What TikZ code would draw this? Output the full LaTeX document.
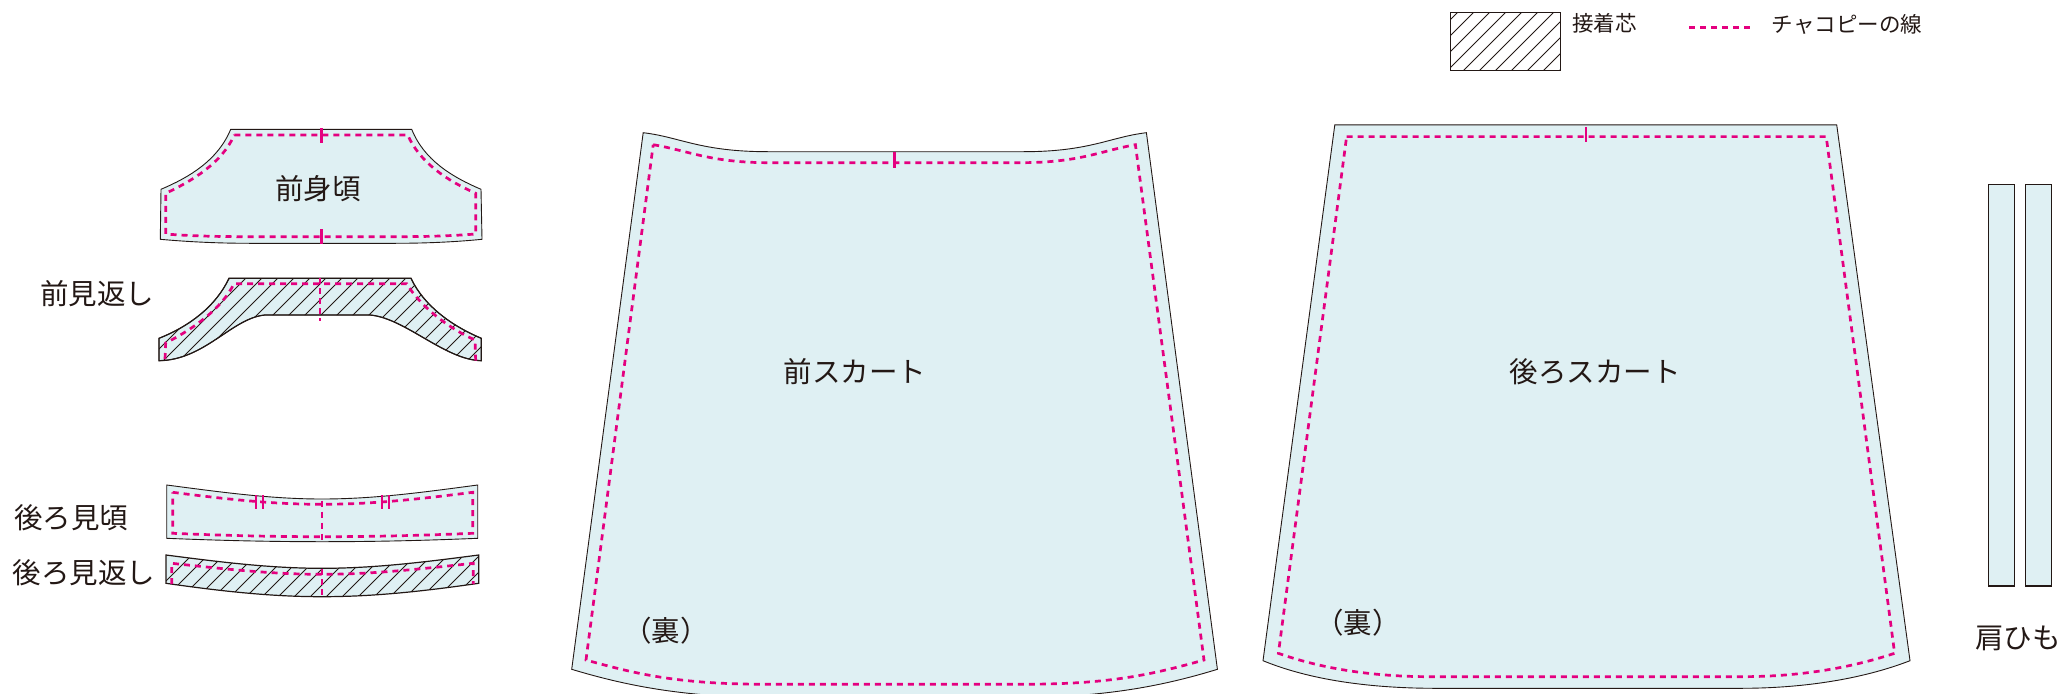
\documentclass[tikz,border=0pt]{standalone}
\usepackage{fontspec}
\setmainfont{Noto Sans CJK JP}
\definecolor{cloth}{HTML}{DFF0F3}
\definecolor{chalk}{HTML}{E4007F}
\definecolor{ink}{HTML}{231815}
\tikzset{
  piece/.style={draw=ink,line width=0.9pt,fill=cloth},
  chalkline/.style={draw=chalk,line width=2.7pt,dash pattern=on 6pt off 5pt},
  tickline/.style={draw=chalk,line width=2.6pt},
  hatchline/.style={draw=ink,line width=0.9pt},
  label/.style={text=ink,font=\fontsize{28.5}{30}\selectfont,inner sep=0pt},
  smalllabel/.style={text=ink,font=\fontsize{21.5}{24}\selectfont,inner sep=0pt}
}
\begin{document}
\begin{tikzpicture}[x=1pt,y=-1pt]
\path[use as bounding box] (0,0) rectangle (2060,693);
\clip (0,0) rectangle (2060,693);
% front bodice
\draw[piece] (230.7,129.3) -- (411.7,129.3) .. controls (424,160) and (452,177) .. (481,189.3) -- (482,239.3)
  .. controls (455,242) and (425,243.3) .. (395,243.3) -- (250,243.3) .. controls (220,243.3) and (190,242) .. (160.3,239.3) -- (161,189.3)
  .. controls (190,177) and (218,160) .. (230.7,129.3) -- cycle;
\draw[chalkline] (234.3,135) -- (407.7,135) .. controls (420,163) and (448,181) .. (475.7,193.3) -- (475.7,234)
  .. controls (450,236) and (425,236.7) .. (395,236.7) -- (250,236.7) .. controls (220,236.7) and (190,236) .. (165.7,234) -- (165.7,193.3)
  .. controls (192,181) and (222,163) .. (234.3,135);
\draw[tickline] (321.3,128) -- (321.3,142.7) (321.3,229) -- (321.3,244);
% front facing
\path[piece] (229,278.3) -- (411,278.3) .. controls (424,306) and (452,326) .. (481.3,338.3) -- (481.3,360.7)
  .. controls (445,360) and (405,318) .. (370,315) -- (265,315)
  .. controls (232,318) and (205,360) .. (159,360.7) -- (159,338.3) .. controls (190,326) and (216,306) .. (229,278.3) -- cycle;
\begin{scope}
\clip (229,278.3) -- (411,278.3) .. controls (424,306) and (452,326) .. (481.3,338.3) -- (481.3,360.7)
  .. controls (445,360) and (405,318) .. (370,315) -- (265,315)
  .. controls (232,318) and (205,360) .. (159,360.7) -- (159,338.3) .. controls (190,326) and (216,306) .. (229,278.3) -- cycle;
\foreach \s in {508,524,...,844} \draw[hatchline] ({\s-270},270) -- ({\s-370},370);
\end{scope}
\draw[draw=ink,line width=1.2pt] (229,278.3) -- (411,278.3) .. controls (424,306) and (452,326) .. (481.3,338.3) -- (481.3,360.7)
  .. controls (445,360) and (405,318) .. (370,315) -- (265,315)
  .. controls (232,318) and (205,360) .. (159,360.7) -- (159,338.3) .. controls (190,326) and (216,306) .. (229,278.3) -- cycle;
\draw[chalkline] (165,359) -- (165.7,343) .. controls (195,328) and (222,308) .. (234,283.7) -- (406.7,283.7)
  .. controls (420,306) and (448,328) .. (475,340) -- (475.7,360.7);
\draw[tickline,dash pattern=on 6pt off 4pt] (320,278.3) -- (320,320.7);
% back bodice
\draw[piece] (166.7,485) .. controls (220,492) and (270,499) .. (322,499) .. controls (375,499) and (425,492) .. (477.7,485)
  -- (477.7,538.3) .. controls (425,540.5) and (375,541.7) .. (322,541.7) .. controls (270,541.7) and (220,540.5) .. (166.7,538.3) -- cycle;
\draw[chalkline] (172.7,492.3) .. controls (225,499) and (272,504.3) .. (322,504.3) .. controls (372,504.3) and (420,499) .. (472.7,492.3)
  -- (472.7,533.3) .. controls (420,535.5) and (372,536.7) .. (322,536.7) .. controls (272,536.7) and (225,535.5) .. (172.7,533.3) -- cycle;
\draw[chalkline] (322,500.7) -- (322,541);
\draw[tickline,line width=2.2pt] (256,495) -- (256,509.3) (262.7,495) -- (262.7,509.3) (382.3,495) -- (382.3,509.3) (389,495) -- (389,509.3);
% back facing
\fill[cloth] (166,555) .. controls (220,562) and (270,568.3) .. (322,568.3) .. controls (375,568.3) and (425,562) .. (478.7,555)
  -- (478.7,583.3) .. controls (425,591) and (375,596.7) .. (322,596.7) .. controls (270,596.7) and (220,591) .. (166,583.3) -- cycle;
\begin{scope}
\clip (166,555) .. controls (220,562) and (270,568.3) .. (322,568.3) .. controls (375,568.3) and (425,562) .. (478.7,555)
  -- (478.7,583.3) .. controls (425,591) and (375,596.7) .. (322,596.7) .. controls (270,596.7) and (220,591) .. (166,583.3) -- cycle;
\foreach \s in {747,763,...,1067} \draw[hatchline] ({\s-550},550) -- ({\s-600},600);
\end{scope}
\draw[draw=ink,line width=1.2pt] (166,555) .. controls (220,562) and (270,568.3) .. (322,568.3) .. controls (375,568.3) and (425,562) .. (478.7,555)
  -- (478.7,583.3) .. controls (425,591) and (375,596.7) .. (322,596.7) .. controls (270,596.7) and (220,591) .. (166,583.3) -- cycle;
\draw[chalkline] (171.7,584) -- (171.7,563.3) .. controls (225,569) and (272,574.3) .. (322,574.3) .. controls (372,574.3) and (420,569) .. (473.3,563.3) -- (473.3,584);
\draw[tickline,dash pattern=on 6pt off 4pt] (322,569) -- (322,596.7);
% front skirt
\draw[piece] (643.2,132.7) .. controls (680,137) and (700,151.7) .. (768,151.7) -- (1023.6,151.7)
  .. controls (1090,151.7) and (1110,137) .. (1146.4,132.7) -- (1217.4,669.3)
  .. controls (1150,690) and (1090,698) .. (1000,698) -- (790,698) .. controls (700,698) and (640,690) .. (571.7,669.3) -- cycle;
\draw[chalkline] (653.2,144.7) .. controls (690,151) and (710,162.7) .. (770,162.7) -- (1020,162.7)
  .. controls (1080,162.7) and (1100,151) .. (1135.4,144.7) -- (1204,660)
  .. controls (1150,675) and (1110,684.3) .. (1020,684.3) -- (770,684.3) .. controls (680,684.3) and (640,675) .. (586,660) -- cycle;
\draw[tickline] (894.6,151.7) -- (894.6,167.7);
% back skirt
\draw[piece] (1334.8,124.8) -- (1836.7,124.8) -- (1910,660.7) .. controls (1860,680) and (1800,688.3) .. (1740.7,688.3) -- (1436,688.3)
  .. controls (1370,688.3) and (1310,680) .. (1263,660.7) -- cycle;
\draw[chalkline] (1346.6,136.6) -- (1826.2,136.6) -- (1894.6,653.3) .. controls (1850,668) and (1800,676.7) .. (1740.7,676.7) -- (1430.8,676.7)
  .. controls (1370,676.7) and (1320,668) .. (1278.4,653.3) -- cycle;
\draw[tickline] (1585.8,127.4) -- (1585.8,142);
% straps
\draw[piece,line width=1.2pt] (1988.3,184.3) rectangle (2014.3,586);
\draw[piece,line width=1.2pt] (2025.7,184.3) rectangle (2051.7,586);
% legend
\begin{scope}
\clip (1450.7,12.7) rectangle (1560.7,70.7);
\foreach \s in {1470,1486,...,1630} \draw[hatchline] ({\s-10},10) -- ({\s-75},75);
\end{scope}
\draw[draw=ink,line width=1.1pt] (1450.7,12.7) rectangle (1560.7,70.7);
\draw[chalkline] (1689.3,27.7) -- (1755,27.7);
% labels
\node[smalllabel] (legendA) at (1604.5,23.5) {接着芯};
\node[smalllabel] (legendB) at (1847,24) {チャコピーの線};
\node[label] (bodice) at (318,189) {前身頃};
\node[label] (facing) at (97,294) {前見返し};
\node[label] (backbodice) at (71,518) {後ろ見頃};
\node[label] (backfacing) at (84,573) {後ろ見返し};
\node[label] (front) at (855,372) {前スカート};
\node[label] (back) at (1595,372) {後ろスカート};
\node[label] (uraA) at (666,631) {（裏）};
\node[label] (uraB) at (1358,623) {（裏）};
\node[label] (strap) at (2018,638) {肩ひも};
\end{tikzpicture}
\end{document}
